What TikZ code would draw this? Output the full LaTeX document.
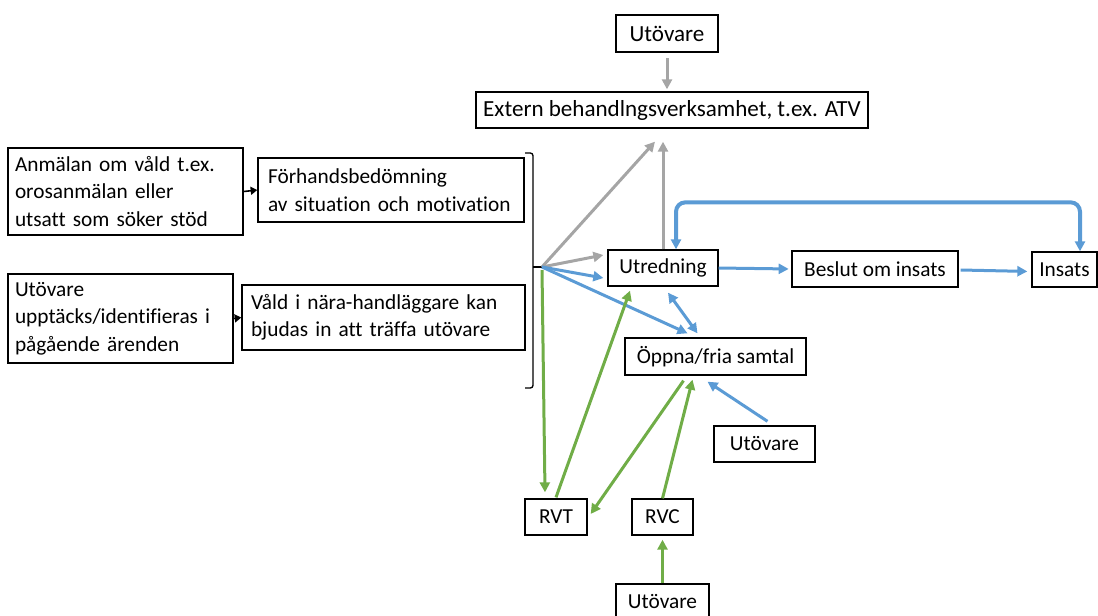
\documentclass[tikz,border=0pt]{standalone}
\usepackage{fontspec}
\setmainfont{Carlito}[Ligatures=NoCommon]
\usetikzlibrary{arrows.meta,calc}

\definecolor{arrgray}{RGB}{165,165,165}
\definecolor{arrblue}{RGB}{91,155,213}
\definecolor{arrgreen}{RGB}{112,173,71}

\tikzset{every picture/.style={line width=0.75pt}}
\tikzset{
  box/.style={draw, line width=1pt, inner sep=0pt, font=\fontsize{16}{20.6}\selectfont},
  bigbox/.style={box, font=\fontsize{17.3}{20.6}\selectfont},
  multibox/.style={box, align=left},
  grayarr/.style={draw=arrgray, line width=2.25pt, -{Triangle[length=7.5pt,width=7.5pt]}},
  bluearr/.style={draw=arrblue, line width=2.25pt, -{Triangle[length=7.5pt,width=7.5pt]}},
  bluearrs/.style={draw=arrblue, line width=2.25pt, {Triangle[length=7.5pt,width=7.5pt]}-{Triangle[length=7.5pt,width=7.5pt]}},
  greenarr/.style={draw=arrgreen, line width=2.25pt, -{Triangle[length=7.5pt,width=7.5pt]}},
  blackarr/.style={draw=black, line width=1.2pt, -{Triangle[length=5pt,width=6pt]}}
}

\begin{document}
\begin{tikzpicture}[x=0.75pt,y=0.75pt,yscale=-1,xscale=1]
	\useasboundingbox (0,0) rectangle (1098,615);

	% Text Node
	\node[bigbox, minimum width=76.5pt, minimum height=27.75pt] (utTop) at (667,33.5) {Utövare};
	% Text Node
	\node[bigbox, minimum width=294pt, minimum height=27pt] (extern) at (672,110) {Extern behandlngsverksamhet, t.ex. ATV};
	% Text Node
	\node[multibox, text width=165.75pt, minimum width=176.25pt, minimum height=65.25pt] (anmalan) at (125.5,191.5) {Anmälan om våld t.ex.\\orosanmälan eller\\utsatt som söker stöd};
	% Text Node
	\node[multibox, text width=184.5pt, minimum width=199.5pt, minimum height=48pt] (forhand) at (391,190) {Förhandsbedömning\\av situation och motivation};
	% Text Node
	\node[multibox, text width=158.25pt, minimum width=168.75pt, minimum height=66.75pt] (upptack) at (120.5,318.5) {Utövare\\upptäcks/identifieras i\\pågående ärenden};
	% Text Node
	\node[multibox, text width=198.75pt, minimum width=212.25pt, minimum height=48.75pt] (vald) at (383.5,317.5) {Våld i nära-handläggare kan\\bjudas in att träffa utövare};
	% Text Node
	\node[box, minimum width=82.5pt, minimum height=27pt] (utred) at (663,268) {Utredning};
	% Text Node
	\node[box, minimum width=124.5pt, minimum height=27pt] (beslut) at (875,269) {Beslut om insats};
	% Text Node
	\node[box, minimum width=48.75pt, minimum height=26.25pt] (insats) at (1064.5,269.5) {Insats};
	% Text Node
	\node[box, minimum width=135.75pt, minimum height=27.75pt] (oppna) at (715.5,356.5) {Öppna/fria samtal};
	% Text Node
	\node[box, minimum width=75.75pt, minimum height=27pt] (utRight) at (764.5,444) {Utövare};
	% Text Node
	\node[box, minimum width=46.5pt, minimum height=27pt] (rvt) at (556,517) {RVT};
	% Text Node
	\node[box, minimum width=45.75pt, minimum height=27pt] (rvc) at (662.5,517) {RVC};
	% Text Node
	\node[box, minimum width=69.75pt, minimum height=27pt] (utBottom) at (662.5,602) {Utövare};

	%Bracket
	\draw[line width=1pt, rounded corners=2pt] (525,153) -- (533,153) -- (533,388) -- (525,388);
	\coordinate (hub) at (542,267);
	\draw[line width=1.2pt] (533,267) -- (hub);

	%Straight Lines
	\draw[blackarr] (anmalan.east) -- (forhand.west);
	\draw[blackarr] (upptack.east) -- (vald.west);

	%Straight Lines
	\draw[grayarr, shorten <=4pt, shorten >=1.5pt] (utTop.south) -- (utTop.south |- extern.north);
	\draw[grayarr] (hub) -- ($(extern.south)+(-17,13)$);
	\draw[grayarr] (utred.north) -- ($(extern.south)+(-9,13)$);
	\draw[grayarr] (hub) -- ($(utred.west)+(-4,-13)$);

	%Straight Lines
	\draw[bluearr] (hub) -- ($(utred.west)+(-4,10)$);
	\draw[bluearr] (hub) -- ($(oppna.north)+(-28,-4)$);
	\draw[bluearrs] ($(utred.south)+(5,6)$) -- ($(oppna.north)+(-18,-4)$);
	\draw[bluearr, shorten >=2pt] (utred.east) -- (beslut.west);
	\draw[bluearr, shorten >=3pt] ($(beslut.east)+(2,1)$) -- ($(insats.west)+(0,2)$);
	\draw[bluearrs, line width=3pt, rounded corners=7pt] ($(utred.north)+(13,0)$) |- ($(insats.north)+(15.5,-49)$) -- ($(insats.north)+(15.5,0)$);
	\draw[bluearr] ($(utRight.north)+(3,-4)$) -- ($(oppna.south)+(-8,6)$);

	%Straight Lines
	\draw[greenarr] ($(hub)+(0,3)$) -- ($(rvt.north)+(-11,-6)$);
	\draw[greenarr] ($(rvt.north)+(0,-1)$) -- ($(utred.south)+(-33,4)$);
	\draw[greenarr] ($(oppna.south)+(-32,5)$) -- ($(rvt.east)+(3,-3)$);
	\draw[greenarr] (rvc.north) -- ($(oppna.south)+(-23,4)$);
	\draw[greenarr, shorten >=3pt] (utBottom.north) -- (rvc.south);

\end{tikzpicture}
\end{document}
